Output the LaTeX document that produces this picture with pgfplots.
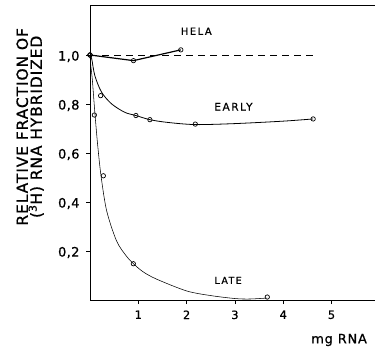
\documentclass[border=0pt]{standalone}
\usepackage{fontspec}
\setmainfont{DejaVu Sans}[FakeBold=0.8]
\usepackage{pgfplots}
\pgfplotsset{compat=1.18}
\begin{document}
\begin{tikzpicture}
\begin{axis}[
  at={(90bp,51bp)}, anchor=south west,
  scale only axis, width=285bp, height=294bp,
  xmin=0, xmax=5.9, ymin=0, ymax=1.2,
  axis x line*=bottom, axis y line*=left,
  axis line style={-, line width=1pt},
  tick align=outside, major tick length=4bp,
  tick style={line width=0.8pt, black},
  xtick={1,2,3,4,5}, ytick={0.2,0.4,0.6,0.8,1.0},
  /pgf/number format/assume math mode=true,
  yticklabel style={/pgf/number format/fixed, /pgf/number format/fixed zerofill,
    /pgf/number format/precision=1, /pgf/number format/use comma,
    font=\fontsize{13}{13}\selectfont\addfontfeatures{LetterSpace=3}, xshift=-3bp, yshift=-1.5bp},
  xticklabel style={font=\fontsize{11.5}{11.5}\selectfont, yshift=-3bp},
  xlabel={mg RNA},
  xlabel style={at={(axis description cs:0.874,-0.136)}, anchor=center,
    font=\fontsize{13}{13}\selectfont\addfontfeatures{LetterSpace=6}},
  ylabel={RELATIVE FRACTION OF\\(\textsuperscript{3}H) RNA HYBRIDIZED},
  ylabel style={at={(axis description cs:-0.21,0.589)}, anchor=center, align=center,
    font=\fontsize{15.5}{14}\selectfont\addfontfeatures{LetterSpace=6}},
  clip=false,
]
% top frame line
\draw[line width=1pt] (rel axis cs:0,1) -- (rel axis cs:1,1);
% HELA
\addplot[black, dashed, dash pattern=on 7bp off 5bp, line width=0.9pt] coordinates {(0,1) (4.66,1)};
\addplot[black, line width=1.2pt, mark=o, mark size=2.2bp, mark options={solid, line width=0.7pt, fill=white}]
  coordinates {(0,1) (0.90,0.977) (1.88,1.021)};
% EARLY curve
\addplot[black, line width=0.8pt, smooth, tension=0.5] coordinates {
  (0,1) (0.035,0.985) (0.10,0.916) (0.24,0.848) (0.45,0.80) (0.72,0.766) (0.95,0.753)
  (1.24,0.736) (1.6,0.725) (2.18,0.716) (3.0,0.720) (4.0,0.730) (4.62,0.739)};
\addplot[black, only marks, mark=o, mark size=2.2bp, mark options={line width=0.7pt, fill=white}]
  coordinates {(0,1) (0.22,0.834) (0.95,0.753) (1.24,0.736) (2.18,0.718) (4.62,0.739)};
% LATE curve
\addplot[black, line width=0.55pt, smooth, tension=0.5] coordinates {
  (0,1) (0.02,0.95) (0.048,0.90) (0.10,0.766) (0.16,0.63) (0.228,0.507) (0.345,0.364)
  (0.55,0.241) (0.75,0.18) (0.9,0.148) (1.1,0.115) (1.38,0.085) (2.0,0.037) (2.5,0.018)
  (3.0,0.006) (3.3,0.004) (3.67,0.008)};
\addplot[black, only marks, mark=o, mark size=2.2bp, mark options={line width=0.7pt, fill=white}]
  coordinates {(0,1) (0.09,0.755) (0.276,0.507) (0.897,0.148) (3.67,0.012)};
% labels
\node[font=\fontsize{10}{10}\selectfont\addfontfeatures{LetterSpace=15}] at (axis cs:2.2,1.097) {HELA};
\node[font=\fontsize{10.5}{10.5}\selectfont\addfontfeatures{LetterSpace=15}] at (axis cs:2.97,0.789) {EARLY};
\node[font=\fontsize{9.5}{9.5}\selectfont\addfontfeatures{LetterSpace=15}] at (axis cs:2.86,0.08) {LATE};
\end{axis}
\pgfresetboundingbox
\path[use as bounding box] (0,0) rectangle (375bp,351bp);
\end{tikzpicture}
\end{document}
